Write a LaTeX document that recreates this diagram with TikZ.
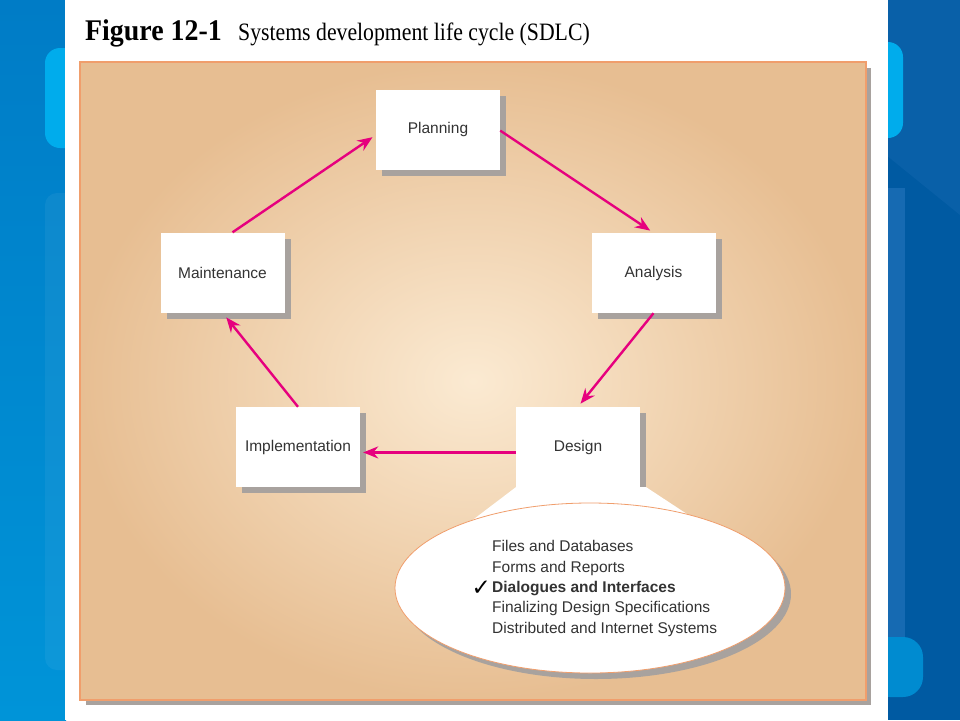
\documentclass[tikz,border=0pt]{standalone}
\usepackage{fontspec}
\setmainfont{Liberation Serif}
\setsansfont{Liberation Sans}
\newfontfamily\symfont{DejaVu Sans}
\usetikzlibrary{arrows.meta,shadows,shapes.geometric}
\definecolor{slidetop}{RGB}{0,124,198}
\definecolor{slidebot}{RGB}{0,148,216}
\definecolor{slidedark}{RGB}{0,90,162}
\definecolor{slidecyan}{RGB}{0,172,236}
\definecolor{slidestrip}{RGB}{22,106,178}
\definecolor{tanlight}{RGB}{251,234,210}
\definecolor{tandark}{RGB}{231,190,146}
\definecolor{tanedge}{RGB}{240,158,108}
\definecolor{boxshadow}{RGB}{168,162,158}
\definecolor{cyclepink}{RGB}{230,0,126}
\definecolor{labelgray}{RGB}{51,51,51}
\begin{document}
\begin{tikzpicture}[x=1pt,y=-1pt,
  stage/.style={fill=white, minimum width=124pt, minimum height=80pt,
    font=\sffamily\fontsize{15.5}{18}\selectfont, text=labelgray,
    drop shadow={shadow xshift=6pt, shadow yshift=-6pt, fill=boxshadow, opacity=1}},
  flow/.style={draw=cyclepink, line width=2.4pt, -{Stealth[length=15pt,width=12pt]}}]
\useasboundingbox (0,0) rectangle (960,720);
% slide background
\shade[top color=slidetop, bottom color=slidebot] (0,0) rectangle (66,720);
\fill[slidecyan, rounded corners=15pt] (45,48) rectangle (80,148);
\fill[white, opacity=0.05, rounded corners=12pt] (45,193) rectangle (80,670);
\fill[slidedark] (886,0) rectangle (960,720);
\fill[slidestrip!40!slidedark] (886,0) -- (960,0) -- (960,215) -- (886,155) -- cycle;
\fill[slidecyan, rounded corners=15pt] (870,42) rectangle (903,138);
\fill[slidestrip] (870,188) rectangle (905,640);
\fill[slidebot!85!slidedark, rounded corners=20pt] (870,637) rectangle (923,697);
\fill[white] (65,0) rectangle (888,720);
% title
\node[anchor=base west, inner sep=0pt, font=\bfseries\fontsize{30}{30}\selectfont, xscale=0.93, transform shape] (fig) at (85,40) {Figure 12-1};
\node[anchor=base west, inner sep=0pt, font=\fontsize{25}{25}\selectfont, xscale=0.87, transform shape] (cap) at (238,40) {Systems development life cycle (SDLC)};
% panel
\fill[boxshadow] (86,68) rectangle (871,705);
\shade[draw=tanedge, line width=1.5pt, inner color=tanlight, outer color=tandark] (80,62) rectangle (866,700);
% stages
\node[stage] (plan) at (438,129.5) {Planning};
\node[stage] (ana) at (653.5,273) {Analysis};
\node[stage] (maint) at (222.5,272.5) {Maintenance};
\node[stage] (impl) at (298,447) {Implementation};
\node[stage] (des) at (578,447) {Design};
% design detail
\fill[white] (des.south west) -- ([xshift=6pt]des.south east) -- (693,518) -- (470,522) -- cycle;
\node[ellipse, fill=white, draw=tanedge, line width=0.8pt, minimum width=390pt, minimum height=170pt,
  drop shadow={shadow xshift=6pt, shadow yshift=-6pt, fill=boxshadow, opacity=1}] (detail) at (590,588) {};
\foreach \t [count=\i] in {Files and Databases, Forms and Reports, {\bfseries Dialogues and Interfaces},
    Finalizing Design Specifications, Distributed and Internet Systems}
  \node[anchor=base west, inner sep=0pt, text=labelgray, font=\sffamily\fontsize{15.5}{18}\selectfont] (item\i) at (492,531.3+20.4*\i) {\t};
\node[anchor=base east, inner sep=0pt, font=\symfont\fontsize{23}{23}\selectfont] (tick) at ([xshift=-1pt, yshift=-3pt]item3.base west) {✓};
% cycle
\draw[flow, shorten >=4pt] (maint.76) -- (plan.185);
\draw[flow, shorten >=4pt] (plan.-1) -- (ana.north);
\draw[flow, shorten >=4pt] (ana.south) -- (des.north);
\draw[flow, shorten >=3pt] (des.185) -- (impl.-5);
\draw[flow, shorten >=6pt] (impl.north) -- (maint.south);
\end{tikzpicture}
\end{document}
